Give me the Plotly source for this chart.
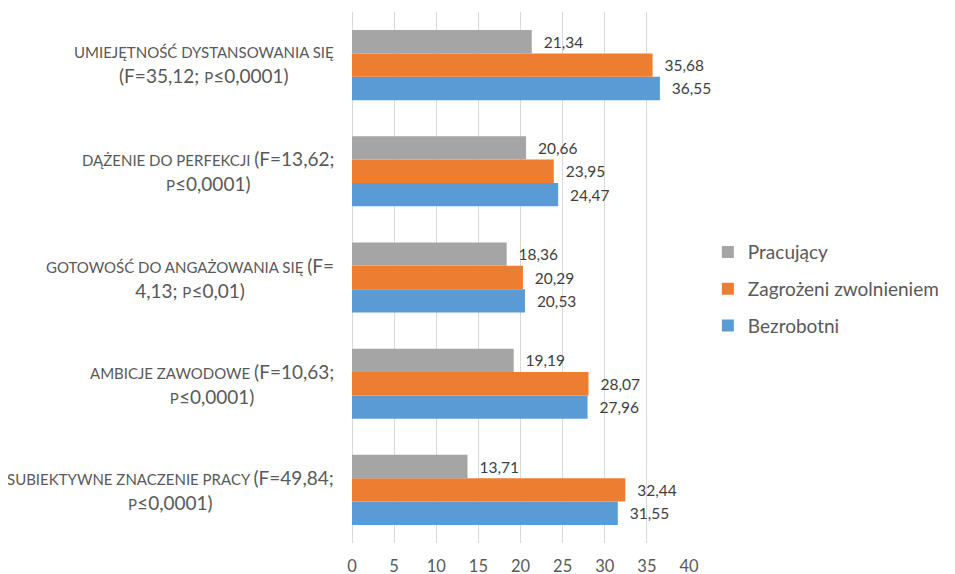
import plotly.graph_objects as go

# ---------------- data ----------------
categories = [
    "subiektywne znaczenie pracy (F=49,84;\np≤0,0001)",
    "ambicje zawodowe (F=10,63;\np≤0,0001)",
    "gotowość do angażowania się (F=\n4,13; p≤0,01)",
    "dążenie do perfekcji (F=13,62;\np≤0,0001)",
    "umiejętność dystansowania się\n(F=35,12; p≤0,0001)",
]
series_names = ["Bezrobotni", "Zagrożeni zwolnieniem", "Pracujący"]
bezrobotni = [31.55, 27.96, 20.53, 24.47, 36.55]
zagrozeni = [32.44, 28.07, 20.29, 23.95, 35.68]
pracujacy = [13.71, 19.19, 18.36, 20.66, 21.34]
x_ticks = [0, 5, 10, 15, 20, 25, 30, 35, 40]

colors = ["#5B9BD5", "#ED7D31", "#A5A5A5"]
FONT = "Lato"
TXT = "#595959"
BIG = 19
SMALL = 15


def small_caps(text):
    """Render lowercase letters as smaller uppercase (small caps)."""
    out = []
    runs = []
    for ch in text:
        if ch.isalpha() and ch.islower():
            kind = "s"
        elif ch == " " and runs:
            kind = runs[-1][0]
        else:
            kind = "n"
        if runs and runs[-1][0] == kind:
            runs[-1][1] += ch
        else:
            runs.append([kind, ch])
    for kind, s in runs:
        if kind == "s":
            out.append(f"<span style='font-size:{SMALL}px'>{s.upper()}</span>")
        else:
            out.append(s)
    return "".join(out)


def label_markup(cat):
    return "<br>".join(small_caps(line) for line in cat.split("\n"))


def fmt(v):
    return "\u00a0\u00a0\u200a" + f"{v:.2f}".replace(".", ",")


fig = go.Figure()
n = len(series_names)
for i, (name, vals, col) in enumerate(zip(series_names, [bezrobotni, zagrozeni, pracujacy], colors)):
    fig.add_trace(go.Bar(
        y=categories, x=vals, name=name, orientation="h",
        marker=dict(color=col, line=dict(width=0)),
        text=[fmt(v) for v in vals], textposition="outside",
        textfont=dict(family=FONT, size=15.5, color="#404040"),
        cliponaxis=False, legendgroup=name, legendrank=n - i,
    ))

for cat in categories:
    fig.add_annotation(
        xref="paper", yref="y", x=-0.047, y=cat,
        xanchor="right", yanchor="middle", align="center",
        text=label_markup(cat), showarrow=False,
        font=dict(family=FONT, size=BIG, color=TXT),
    )

fig.update_layout(
    width=955, height=574,
    margin=dict(l=344, r=274, t=4, b=39, autoexpand=False),
    paper_bgcolor="white", plot_bgcolor="white",
    barmode="group", bargap=0.34, bargroupgap=0,
    font=dict(family=FONT, color=TXT),
    legend=dict(
        x=1.056, y=0.478, xanchor="left", yanchor="middle",
        traceorder="grouped", tracegroupgap=9,
        font=dict(family=FONT, size=19, color=TXT),
    ),
    showlegend=True,
)
fig.update_xaxes(
    range=[0, 40], tickvals=x_ticks, showgrid=True, gridcolor="#D9D9D9",
    gridwidth=1, zeroline=True, zerolinecolor="#D9D9D9", zerolinewidth=1,
    showline=False, ticks="outside", ticklen=8, tickcolor="rgba(0,0,0,0)",
    tickfont=dict(family=FONT, size=16.5, color=TXT), automargin=False,
)
fig.update_yaxes(showticklabels=False, showgrid=False, zeroline=False,
                 showline=False, automargin=False)

fig.write_html("out.html")
